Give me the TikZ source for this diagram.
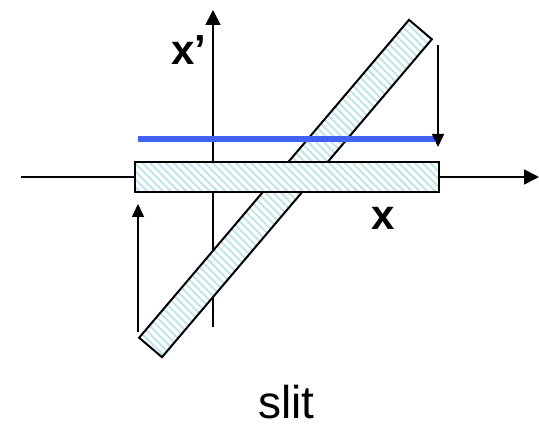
\documentclass[tikz,border=0pt]{standalone}
\usepackage{fontspec}
\setmainfont{Liberation Sans}
\usepackage{tikz}
\usetikzlibrary{arrows.meta, patterns.meta}

\definecolor{hatchcol}{RGB}{192,228,232}
\definecolor{beamblue}{RGB}{64,98,250}

\tikzset{
    slitbox/.style={draw=black, line width=2pt, preaction={fill=white},
        pattern={Lines[angle=-45, distance=5.5pt, line width=2pt]}, pattern color=hatchcol},
    axisline/.style={line width=1.8pt, -{Triangle[length=15pt, width=15pt]}},
    movearrow/.style={line width=1.6pt, -{Triangle[length=13pt, width=12pt]}}
}

\begin{document}
\begin{tikzpicture}[x=1pt, y=-1pt]
    \useasboundingbox (0,0) rectangle (539,425);
    % axes
    \coordinate (O) at (213,177);
    \coordinate (W) at (21,177);
    \coordinate (E) at (539,177);
    \coordinate (N) at (213,10);
    \coordinate (S) at (213,327);
    \draw[axisline] (W) -- (E);
    \draw[axisline] (S) -- (N);
    % tilted slit and the slit along x
    \node[slitbox, minimum width=417pt, minimum height=30pt, inner sep=0pt,
          rotate=49.67] (tilt) at (285.5,188.5) {};
    \node[slitbox, minimum width=304pt, minimum height=30pt, inner sep=0pt]
          (flat) at (287,177) {};
    % projected beam
    \coordinate (B1) at (138,139);
    \coordinate (B2) at (435,139);
    \draw[beamblue, line width=6pt] (B1) -- (B2);
    % shift arrows
    \coordinate (D1) at (438,45);
    \coordinate (D2) at (438,147);
    \coordinate (U1) at (138,332);
    \coordinate (U2) at (138,204);
    \draw[movearrow] (D1) -- (D2);
    \draw[movearrow] (U1) -- (U2);
    % labels
    \node[anchor=base west, inner sep=0pt, font=\fontsize{42}{42}\selectfont\bfseries]
          (xplab) at (171,65) {x’};
    \node[anchor=base west, inner sep=0pt, font=\fontsize{42}{42}\selectfont\bfseries]
          (xlab) at (371,230) {x};
    \node[anchor=base west, inner sep=0pt, font=\fontsize{46}{46}\selectfont]
          (slit) at (258,418) {slit};
\end{tikzpicture}
\end{document}
